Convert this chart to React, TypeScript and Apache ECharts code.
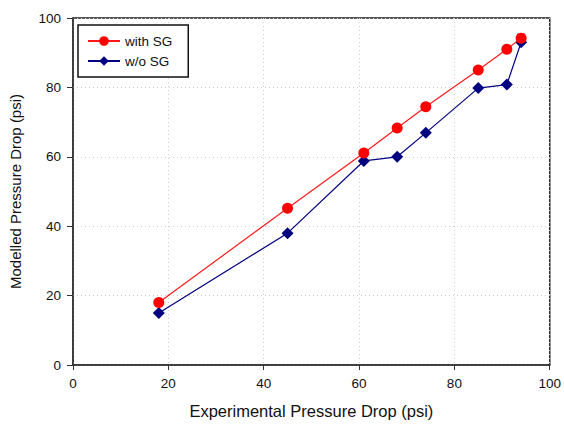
import React, { useEffect, useRef } from "react";
import * as echarts from "echarts";

const experimental = [18, 45, 61, 68, 74, 85, 91, 94];
const withSG = [18, 45.2, 61.1, 68.3, 74.4, 85, 91, 94.2];
const withoutSG = [15, 38, 58.8, 60, 66.9, 79.8, 80.8, 93];
const seriesNames = ["with SG", "w/o SG"];

export default function App() {
  const ref = useRef<HTMLDivElement>(null);
  useEffect(() => {
    if (!ref.current) return;
    const chart = echarts.init(ref.current, null, { renderer: "svg" });
    const font = "'Liberation Sans', Arial, sans-serif";
    const gridLine = { show: true, lineStyle: { type: [1, 3], color: "#cfcfcf", width: 1 } };
    chart.setOption({
      animation: false,
      backgroundColor: "#ffffff",
      textStyle: { fontFamily: font },
      grid: {
        left: 71,
        right: 12,
        top: 18,
        bottom: 59,
        show: true,
        borderColor: "#222",
        borderWidth: 1.5,
        backgroundColor: "transparent",
      },
      legend: {
        orient: "vertical",
        left: 78,
        top: 25,
        width: 105,
        padding: [9, 16, 9, 9],
        backgroundColor: "#fff",
        borderColor: "#111",
        borderWidth: 1.5,
        itemWidth: 32,
        itemHeight: 12,
        itemGap: 6,
        textStyle: { fontFamily: font, fontSize: 13.5, color: "#111" },
        data: seriesNames,
      },
      xAxis: {
        type: "value",
        min: 0,
        max: 100,
        interval: 20,
        name: "Experimental Pressure Drop (psi)",
        nameLocation: "middle",
        nameGap: 37,
        nameTextStyle: { fontSize: 16.5, color: "#111", fontFamily: font },
        axisLine: { show: true, lineStyle: { color: "#333", width: 1.5 } },
        axisTick: { show: true, length: 5, lineStyle: { color: "#333" } },
        axisLabel: { fontSize: 13.5, color: "#111", margin: 11, fontFamily: font },
        splitLine: gridLine,
      },
      yAxis: {
        type: "value",
        min: 0,
        max: 100,
        interval: 20,
        name: "Modelled Pressure Drop (psi)",
        nameLocation: "middle",
        nameGap: 50,
        nameTextStyle: { fontSize: 15, color: "#111", fontFamily: font },
        axisLine: { show: true, lineStyle: { color: "#333", width: 1.5 } },
        axisTick: { show: true, length: 6, lineStyle: { color: "#333" } },
        axisLabel: { fontSize: 13.5, color: "#111", margin: 12, fontFamily: font },
        splitLine: gridLine,
      },
      series: [
        {
          name: seriesNames[0],
          type: "line",
          data: experimental.map((x, i) => [x, withSG[i]]),
          symbol: "circle",
          symbolSize: 11,
          lineStyle: { color: "#ff1a1a", width: 1.2 },
          itemStyle: { color: "#ff0000" },
          z: 3,
        },
        {
          name: seriesNames[1],
          type: "line",
          data: experimental.map((x, i) => [x, withoutSG[i]]),
          symbol: "diamond",
          symbolSize: 12,
          lineStyle: { color: "#000080", width: 1.2 },
          itemStyle: { color: "#000080" },
          z: 2,
        },
      ],
    });
    return () => chart.dispose();
  }, []);
  return <div ref={ref} style={{ width: 564, height: 424, position: "absolute", left: 0, top: 0 }} />;
}
